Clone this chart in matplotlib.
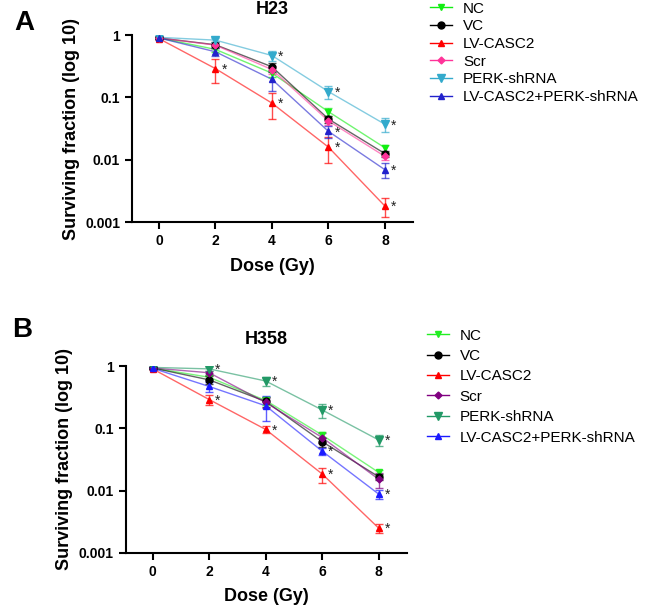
import matplotlib
matplotlib.use('Agg')
import matplotlib.pyplot as plt
from matplotlib.lines import Line2D

plt.rcParams['font.family'] = ['Liberation Sans', 'DejaVu Sans']

dose = [0, 2, 4, 6, 8]
groups = ["NC", "VC", "LV-CASC2", "Scr", "PERK-shRNA", "LV-CASC2+PERK-shRNA"]
markers = ["v", "o", "^", "D", "v", "^"]
msizes = [5, 5, 5, 3.5, 6, 5]

# panel A (H23)
h23_mean = [
    [0.90, 0.59, 0.245, 0.059, 0.0155],
    [0.90, 0.70, 0.31, 0.045, 0.0125],
    [0.88, 0.29, 0.081, 0.0159, 0.0018],
    [0.90, 0.69, 0.28, 0.042, 0.0113],
    [0.92, 0.83, 0.47, 0.124, 0.037],
    [0.90, 0.54, 0.195, 0.0285, 0.0069],
]
h23_err = [
    [0.05, 0.06, 0.03, 0.008, 0.002],
    [0.04, 0.08, 0.05, 0.006, 0.0015],
    [0.05, 0.12, 0.036, 0.007, 0.0006],
    [0.04, 0.07, 0.04, 0.006, 0.0015],
    [0.04, 0.06, 0.08, 0.03, 0.009],
    [0.05, 0.08, 0.07, 0.006, 0.0018],
]
h23_colors = ["#11ee11", "#000000", "#ff0000", "#ff3399", "#33aacc", "#2222cc"]
h23_stars = [(2, 1), (2, 2), (2, 3), (2, 4), (4, 2), (4, 3), (4, 4), (5, 3), (5, 4)]

# panel B (H358)
h358_mean = [
    [0.93, 0.66, 0.28, 0.078, 0.0196],
    [0.93, 0.60, 0.27, 0.061, 0.0167],
    [0.90, 0.29, 0.096, 0.0185, 0.0025],
    [0.93, 0.78, 0.26, 0.071, 0.0152],
    [0.95, 0.90, 0.575, 0.197, 0.065],
    [0.92, 0.47, 0.23, 0.043, 0.0088],
]
h358_err = [
    [0.03, 0.05, 0.04, 0.008, 0.0015],
    [0.03, 0.08, 0.05, 0.010, 0.002],
    [0.04, 0.05, 0.012, 0.005, 0.0004],
    [0.03, 0.06, 0.05, 0.012, 0.004],
    [0.04, 0.08, 0.09, 0.05, 0.012],
    [0.03, 0.08, 0.10, 0.005, 0.0015],
]
h358_colors = ["#22ee22", "#000000", "#ff0000", "#800080", "#229966", "#1a1aff"]
h358_stars = [(4, 1), (4, 2), (4, 3), (4, 4), (2, 1), (2, 2), (2, 3), (2, 4), (5, 3), (5, 4)]


def draw_panel(ax, title, means, errs, colors, stars, tpad):
    for i in range(len(groups)):
        ax.plot(dose, means[i], color=colors[i], lw=1, alpha=0.6, zorder=2)
        ax.errorbar(dose, means[i], yerr=errs[i], fmt='none', ecolor=colors[i],
                    elinewidth=1, capsize=3, capthick=1, alpha=0.7, zorder=3)
        ax.plot(dose, means[i], ls='none', marker=markers[i], ms=msizes[i],
                color=colors[i], zorder=4)
    for i, j in stars:
        ax.annotate("*", (dose[j], means[i][j]), xytext=(6, -1),
                    textcoords='offset pixels', fontsize=10, color='#222222',
                    ha='left', va='center')
    ax.set_yscale('log')
    ax.set_ylim(0.001, 1.0)
    ax.set_xlim(-0.95, 9.0)
    ax.set_xticks(dose)
    ax.set_yticks([0.001, 0.01, 0.1, 1])
    ax.set_yticklabels(["0.001", "0.01", "0.1", "1"])
    ax.minorticks_off()
    ax.spines['top'].set_visible(False)
    ax.spines['right'].set_visible(False)
    ax.spines['left'].set_linewidth(1.5)
    ax.spines['bottom'].set_linewidth(1.5)
    ax.tick_params(width=1.5, length=5, labelsize=10)
    for lab in ax.get_xticklabels() + ax.get_yticklabels():
        lab.set_fontweight('bold')
    ax.set_title(title, fontsize=13, fontweight='bold', pad=tpad)
    ax.set_xlabel("Dose (Gy)", fontsize=13, fontweight='bold', labelpad=7)
    ax.set_ylabel("Surviving fraction (log 10)", fontsize=13, fontweight='bold', labelpad=4)


fig = plt.figure(figsize=(6.45, 6.05), dpi=100)
axA = fig.add_axes([0.2047, 0.633, 0.436, 0.309])
axB = fig.add_axes([0.195, 0.086, 0.436, 0.309])

draw_panel(axA, "H23", h23_mean, h23_err, h23_colors, h23_stars, 15)
draw_panel(axB, "H358", h358_mean, h358_err, h358_colors, h358_stars, 16)

for colors, anchor, spacing in [(h23_colors, (0.667, 0.997), 0.24),
                                (h358_colors, (0.662, 0.457), 0.42)]:
    handles = [Line2D([0], [0], color=colors[i], marker=markers[i], ms=msizes[i], lw=1)
               for i in range(len(groups))]
    fig.legend(handles, groups, loc='upper left', bbox_to_anchor=anchor,
               frameon=False, fontsize=11, labelspacing=spacing, handlelength=1.45,
               handletextpad=0.7, borderpad=0, borderaxespad=0)

fig.text(0.038, 0.962, "A", fontsize=20, fontweight='bold', ha='center', va='center')
fig.text(0.034, 0.455, "B", fontsize=20, fontweight='bold', ha='center', va='center')

fig.savefig("out.png", dpi=100)
